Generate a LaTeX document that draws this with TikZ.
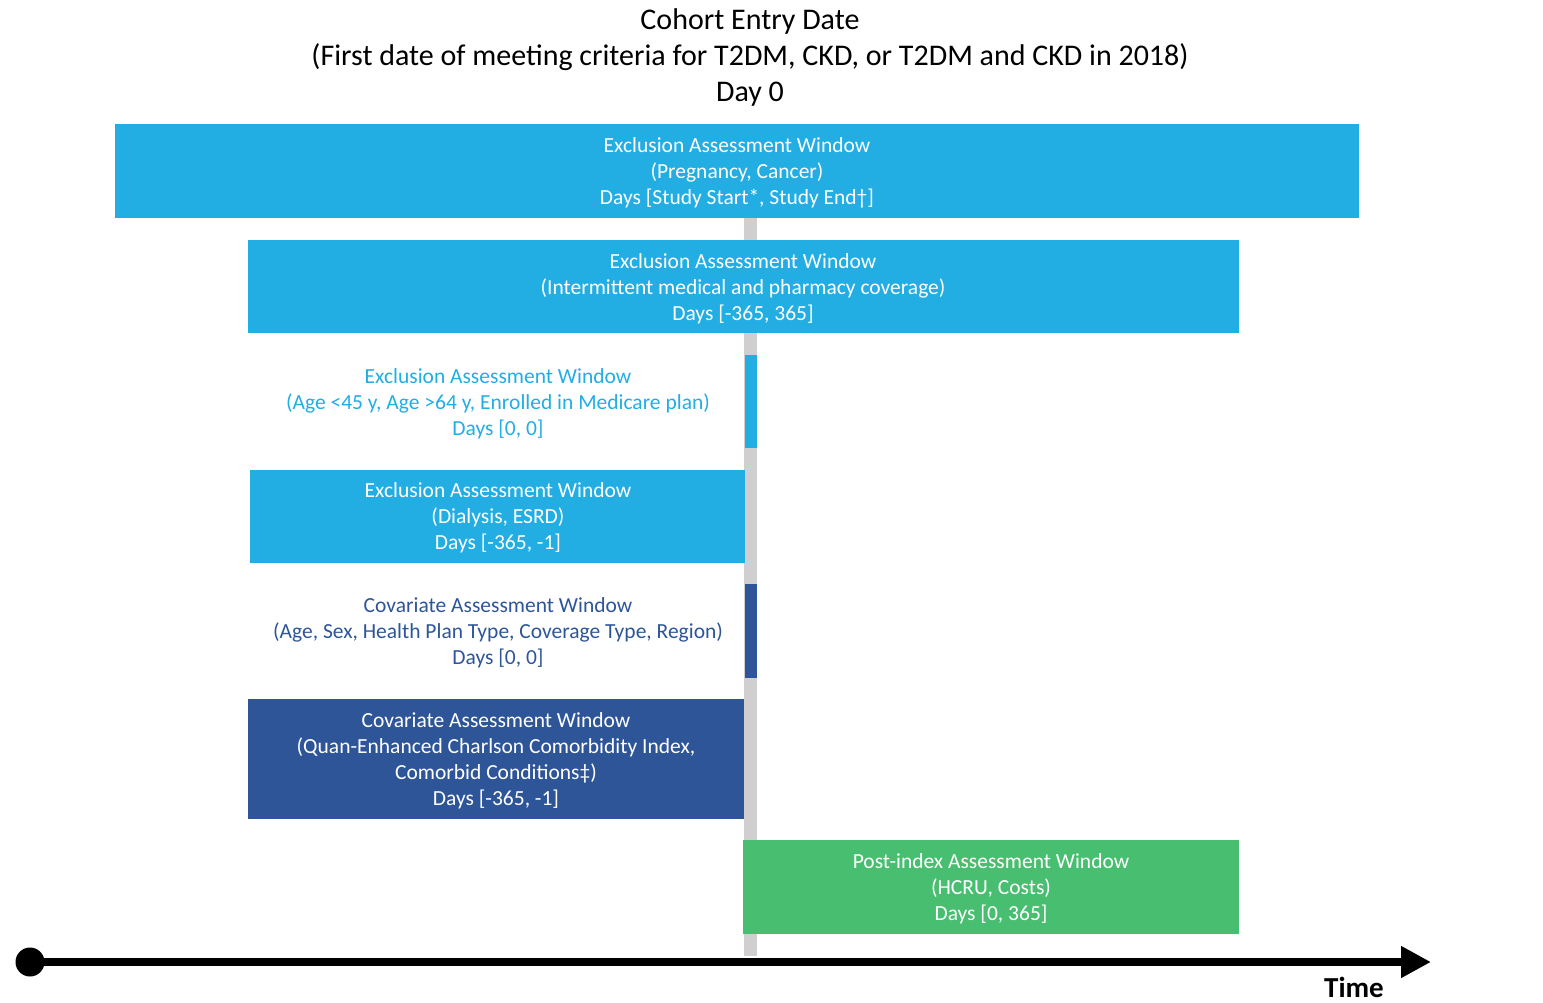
\documentclass[tikz,border=0pt]{standalone}
\usepackage{fontspec}
\setmainfont{Carlito}
\usetikzlibrary{arrows.meta}
\definecolor{lblue}{RGB}{34,173,227}
\definecolor{dblue}{RGB}{46,85,151}
\definecolor{pgreen}{RGB}{72,190,112}
\definecolor{vgray}{RGB}{208,206,206}
\tikzset{
  win/.style={inner sep=0pt, outer sep=0pt, text=white, align=center, font=\fontsize{21.5}{26}\selectfont},
  lbl/.style={inner sep=0pt, align=center, font=\fontsize{21.5}{26}\selectfont},
}
\begin{document}
\begin{tikzpicture}[x=1pt,y=-1pt]
\useasboundingbox (0,0) rectangle (1543,1003);
% gray day-0 line
\fill[vgray] (744,218) rectangle (757,956);
% title
\node[inner sep=0pt, align=center, font=\fontsize{30}{36}\selectfont] (title) at (750,58) {Cohort Entry Date\\(First date of meeting criteria for T2DM, CKD, or T2DM and CKD in 2018)\\Day 0};
% box 1
\fill[lblue] (115,124) rectangle (1359,218);
\node[win] (b1) at (737,173) {Exclusion Assessment Window\\(Pregnancy, Cancer)\\Days [Study Start*, Study End†]};
% box 2
\fill[lblue] (248,240) rectangle (1239,333);
\node[win] (b2) at (743,289) {Exclusion Assessment Window\\(Intermittent medical and pharmacy coverage)\\Days [-365, 365]};
% bar 3
\fill[lblue] (745,355) rectangle (757,448);
\node[lbl, text=lblue] (b3) at (498,404) {Exclusion Assessment Window\\(Age <45 y, Age >64 y, Enrolled in Medicare plan)\\Days [0, 0]};
% box 4
\fill[lblue] (250,470) rectangle (745,563);
\node[win] (b4) at (498,518) {Exclusion Assessment Window\\(Dialysis, ESRD)\\Days [-365, -1]};
% bar 5
\fill[dblue] (745,584) rectangle (757,678);
\node[lbl, text=dblue] (b5) at (498,633) {Covariate Assessment Window\\(Age, Sex, Health Plan Type, Coverage Type, Region)\\Days [0, 0]};
% box 6
\fill[dblue] (248,699) rectangle (744,819);
\node[win] (b6) at (496,761) {Covariate Assessment Window\\(Quan-Enhanced Charlson Comorbidity Index,\\Comorbid Conditions‡)\\Days [-365, -1]};
% box 7
\fill[pgreen] (743,840) rectangle (1239,934);
\node[win] (b7) at (991,889) {Post-index Assessment Window\\(HCRU, Costs)\\Days [0, 365]};
% timeline
\coordinate (t0) at (30,962);
\coordinate (t1) at (1431,962);
\fill[black] (t0) circle (14.5);
\draw[line width=8pt, -{Triangle[length=30pt,width=30pt]}] (t0) -- (t1);
\node[inner sep=0pt, font=\fontsize{29}{34}\bfseries\selectfont] (time) at (1354,987) {Time};
\end{tikzpicture}
\end{document}
